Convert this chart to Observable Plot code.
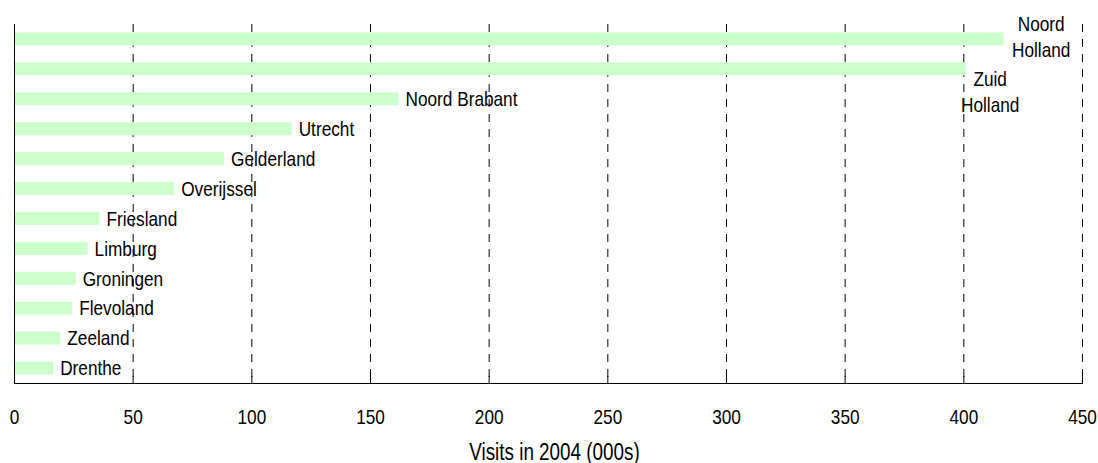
<!DOCTYPE html>
<html>
<head>
<meta charset="utf-8">
<script src="https://cdn.jsdelivr.net/npm/d3@7"></script>
<script src="https://cdn.jsdelivr.net/npm/@observablehq/plot@0.6"></script>
<style>
  html, body { margin: 0; padding: 0; background: #fff; }
</style>
</head>
<body>
<div id="chart"></div>
<script>
// ---- data ----
const provinces = ["Noord Holland", "Zuid Holland", "Noord Brabant", "Utrecht", "Gelderland", "Overijssel",
  "Friesland", "Limburg", "Groningen", "Flevoland", "Zeeland", "Drenthe"];
const visits = [417, 401, 162, 117, 88.5, 67.5, 36, 31, 26, 24.5, 19.5, 16.5];
const xTicks = [0, 50, 100, 150, 200, 250, 300, 350, 400, 450];
const axisTitle = "Visits in 2004 (000s)";

const data = provinces.map((p, i) => ({province: p, visits: visits[i]}));

// labels that are wrapped onto two lines, with their placement offsets
const wrappedPlacement = new Map([
  ["Noord Holland", {dx: 37, dy: -3.5}],
  ["Zuid Holland", {dx: 24, dy: 21}]
]);

const FONT = "'Liberation Sans', Arial, sans-serif";
const NARROW = 0.82; // horizontal squeeze to mimic a narrow face

const wrappedMarks = data
  .filter(d => wrappedPlacement.has(d.province))
  .map(d => Plot.text([d], {
    x: "visits",
    y: "province",
    text: r => r.province.replace(" ", "\n"),
    textAnchor: "middle",
    lineAnchor: "middle",
    lineHeight: 1.25,
    dx: wrappedPlacement.get(d.province).dx,
    dy: wrappedPlacement.get(d.province).dy,
    fill: "#000",
    fontSize: 21
  }));

const chart = Plot.plot({
  width: 1098,
  height: 463,
  marginLeft: 14,
  marginRight: 16,
  marginTop: 24,
  marginBottom: 80,
  style: {fontFamily: FONT, fontSize: "21px", color: "#000", background: "#fff", overflow: "visible"},
  x: {domain: [0, 450], axis: null},
  y: {domain: provinces, axis: null, paddingInner: 0.565, paddingOuter: 0.2825, round: false},
  marks: [
    // dashed grid
    Plot.ruleX(xTicks.slice(1), {x: d => d, stroke: "#000", strokeDasharray: "8,7"}),
    // bars
    Plot.barX(data, {x: "visits", y: "province", fill: "#ccffcc"}),
    // left axis line
    Plot.ruleX([0], {stroke: "#000"}),
    // bottom axis line
    Plot.frame({anchor: "bottom", stroke: "#000"}),
    // inward ticks
    Plot.ruleX(xTicks, {x: d => d, insetTop: 352, stroke: "#000"}),
    // tick labels
    Plot.axisX(xTicks, {tickSize: 0, tickPadding: 26, fontSize: 21, label: null}),
    // axis title
    Plot.text([axisTitle], {frameAnchor: "bottom", dy: 69, dx: 6, lineAnchor: "middle", fontSize: 23, fill: "#000"}),
    // bar labels
    Plot.text(data.filter(d => !wrappedPlacement.has(d.province)), {
      x: "visits", y: "province", text: "province",
      textAnchor: "start", lineAnchor: "middle", dx: 6.5, fill: "#000", fontSize: 21
    }),
    ...wrappedMarks
  ]
});

document.getElementById("chart").appendChild(chart);

// squeeze every text horizontally so it reads like a narrow face
chart.querySelectorAll("text").forEach(t => {
  const spans = t.querySelectorAll("tspan");
  const targets = spans.length ? Array.from(spans) : [t];
  targets.forEach(el => {
    const len = el.getComputedTextLength();
    if (len > 0) {
      el.setAttribute("textLength", (len * NARROW).toFixed(2));
      el.setAttribute("lengthAdjust", "spacingAndGlyphs");
    }
  });
});
</script>
</body>
</html>
